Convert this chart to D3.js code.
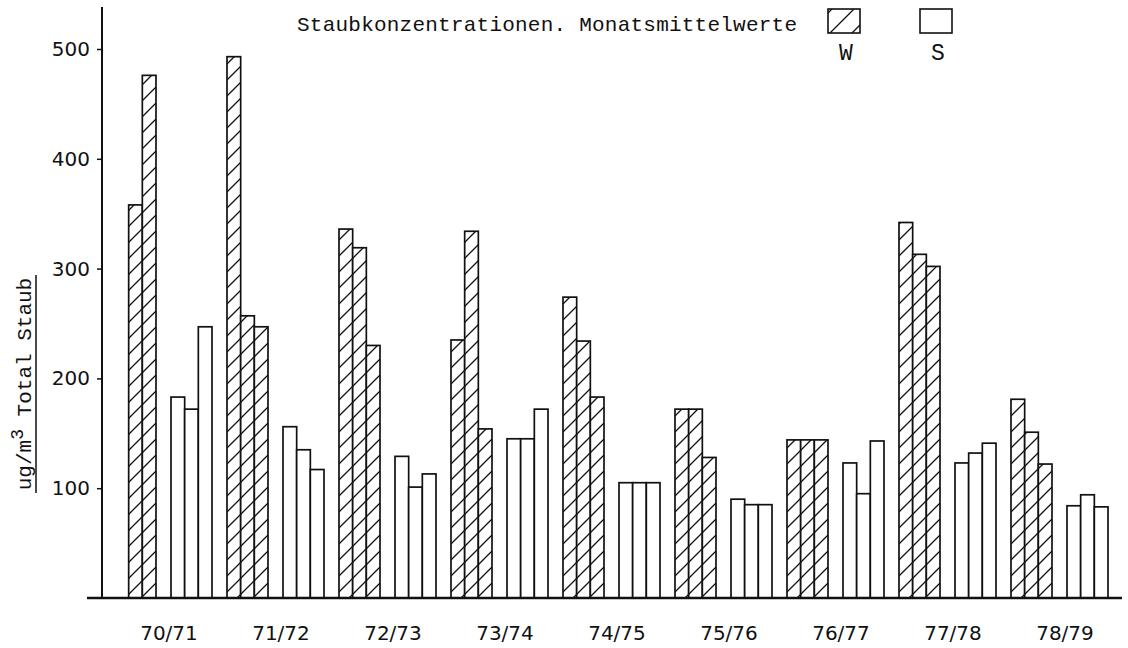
<!DOCTYPE html>
<html>
<head>
<meta charset="utf-8">
<script src="https://cdn.jsdelivr.net/npm/d3@7"></script>
<style>
  body { margin: 0; background: #fff; }
  .mono { font-family: 'Liberation Mono', 'DejaVu Sans Mono', monospace; fill: #111; }
  .sans { font-family: 'DejaVu Sans', sans-serif; fill: #111; }
</style>
</head>
<body>
<div id="chart"></div>
<script>
// seasons (winter/summer half years)
const seasons = ['70/71', '71/72', '72/73', '73/74', '74/75', '75/76', '76/77', '77/78', '78/79']

// monthly means, ug/m3 total dust, three months per half year
const winterValues = [
  [null, 358, 476],
  [493, 257, 247],
  [336, 319, 230],
  [235, 334, 154],
  [274, 234, 183],
  [172, 172, 128],
  [144, 144, 144],
  [342, 313, 302],
  [181, 151, 122]
]
const summerValues = [
  [183, 172, 247],
  [156, 135, 117],
  [129, 101, 113],
  [145, 145, 172],
  [105, 105, 105],
  [90, 85, 85],
  [123, 95, 143],
  [123, 132, 141],
  [84, 94, 83]
]

const yTicks = [100, 200, 300, 400, 500]
const titleText = 'Staubkonzentrationen. Monatsmittelwerte'

const width = 1128
const height = 648
const baseY = 598

const svg = d3.select('#chart').append('svg')
  .attr('width', width)
  .attr('height', height)

const defs = svg.append('defs')

/**
 * Diagonal hatch pattern, lines x + y = const, spaced by size.
 */
function initHatch (id, size, px, py) {
  const pattern = defs.append('pattern')
    .attr('id', id)
    .attr('patternUnits', 'userSpaceOnUse')
    .attr('x', px)
    .attr('y', py)
    .attr('width', size)
    .attr('height', size)
  pattern.append('rect').attr('width', size).attr('height', size).attr('fill', '#fff')
  pattern.append('path')
    .attr('d', `M0,${size} L${size},0 M-3,3 L3,-3 M${size - 3},${size + 3} L${size + 3},${size - 3}`)
    .attr('stroke', '#111')
    .attr('stroke-width', 1.3)
}

initHatch('hatch', 16, 0, 0)
initHatch('hatch-legend', 22, 828, 13)

// one group per half year: W then S
const groups = []
seasons.forEach((s, i) => {
  groups.push({ key: s + 'W', kind: 'W', values: winterValues[i] })
  groups.push({ key: s + 'S', kind: 'S', values: summerValues[i] })
})

const x = d3.scaleBand()
  .domain(groups.map(d => d.key))
  .range([115, 1108])
  .paddingInner(15 / 56)
  .paddingOuter(0)

const xInner = d3.scaleBand()
  .domain([0, 1, 2])
  .range([0, x.bandwidth()])

const y = d3.scaleLinear().domain([0, 500]).range([baseY, 49])

// bars
const g = svg.selectAll('g.group')
  .data(groups)
  .join('g')
  .attr('class', 'group')
  .attr('transform', d => 'translate(' + x(d.key) + ',0)')

g.selectAll('rect')
  .data(d => d.values.map((v, i) => ({ v, i, kind: d.kind })).filter(e => e.v !== null))
  .join('rect')
  .attr('x', e => xInner(e.i))
  .attr('y', e => y(e.v))
  .attr('width', xInner.bandwidth())
  .attr('height', e => baseY - y(e.v))
  .attr('fill', e => e.kind === 'W' ? 'url(#hatch)' : '#fff')
  .attr('stroke', '#111')
  .attr('stroke-width', 1.7)

// y axis
const yAxis = svg.append('g')
  .attr('transform', 'translate(102,0)')
  .call(d3.axisLeft(y).tickValues(yTicks).tickSize(5).tickPadding(7))

yAxis.select('.domain').remove()
yAxis.selectAll('line').attr('stroke', '#111').attr('stroke-width', 1.5)
yAxis.selectAll('text')
  .attr('class', 'sans')
  .style('font-size', '20px')

svg.append('line')
  .attr('x1', 102).attr('x2', 102)
  .attr('y1', 7).attr('y2', baseY)
  .attr('stroke', '#111')
  .attr('stroke-width', 2)

// baseline
svg.append('line')
  .attr('x1', 87).attr('x2', 1122)
  .attr('y1', baseY).attr('y2', baseY)
  .attr('stroke', '#111')
  .attr('stroke-width', 2.5)

// season labels
svg.selectAll('text.season')
  .data(seasons)
  .join('text')
  .attr('class', 'season sans')
  .attr('x', s => x(s + 'S') - 2)
  .attr('y', 640)
  .attr('text-anchor', 'middle')
  .style('font-size', '20px')
  .text(s => s)

// y axis title
const yTitle = svg.append('text')
  .attr('class', 'mono')
  .attr('transform', 'translate(31,384) rotate(-90)')
  .attr('text-anchor', 'middle')
  .style('font-size', '21px')
yTitle.append('tspan').text('ug/m')
yTitle.append('tspan').attr('dy', -8).style('font-size', '18px').text('3')
yTitle.append('tspan').attr('dy', 8).text(' Total Staub')

svg.append('line')
  .attr('x1', 36).attr('x2', 36)
  .attr('y1', 275).attr('y2', 493)
  .attr('stroke', '#111')
  .attr('stroke-width', 1.5)

// title and legend
svg.append('text')
  .attr('class', 'mono')
  .attr('x', 297)
  .attr('y', 31)
  .attr('textLength', 500)
  .style('font-size', '21px')
  .text(titleText)

const legend = [
  { label: 'W', fill: 'url(#hatch-legend)', x0: 828 },
  { label: 'S', fill: '#fff', x0: 920 }
]

svg.selectAll('rect.legend')
  .data(legend)
  .join('rect')
  .attr('class', 'legend')
  .attr('x', d => d.x0)
  .attr('y', 9)
  .attr('width', 32)
  .attr('height', 24)
  .attr('fill', d => d.fill)
  .attr('stroke', '#111')
  .attr('stroke-width', 1.6)

svg.selectAll('text.legend')
  .data(legend)
  .join('text')
  .attr('class', 'legend mono')
  .attr('x', d => d.x0 + 18)
  .attr('y', 60)
  .attr('text-anchor', 'middle')
  .style('font-size', '23px')
  .text(d => d.label)
</script>
</body>
</html>
